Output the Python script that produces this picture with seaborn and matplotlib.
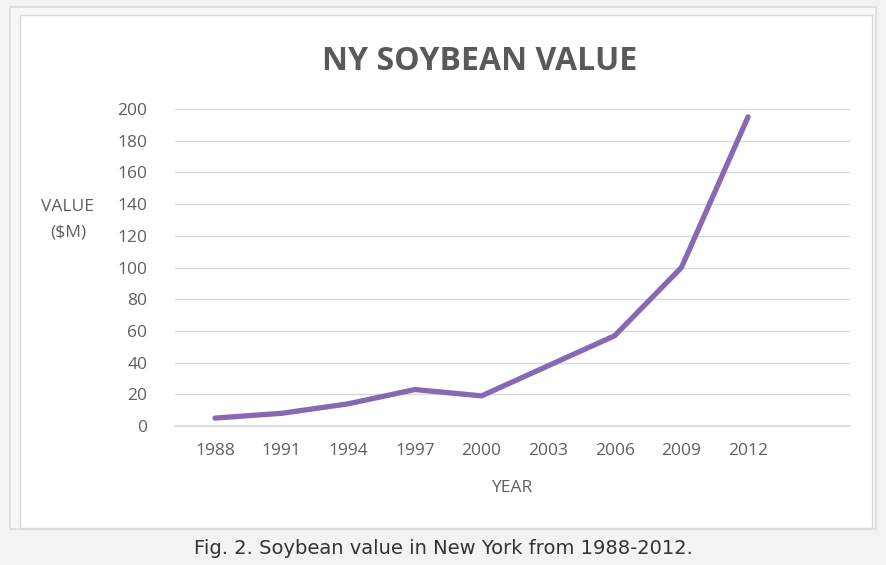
import matplotlib
matplotlib.use("Agg")
import matplotlib.pyplot as plt
import matplotlib.patches as patches
import seaborn as sns
import pandas as pd

# data
years = ["1988", "1991", "1994", "1997", "2000", "2003", "2006", "2009", "2012"]
value_musd = [5, 8, 14, 23, 19, 38, 57, 100, 195]

df = pd.DataFrame({"year": years, "value": value_musd})

sns.set_theme(style="white")
plt.rcParams["font.family"] = ["Open Sans", "DejaVu Sans"]

fig = plt.figure(figsize=(8.87, 5.65), dpi=100)
fig.patch.set_facecolor("#f3f3f3")

# white chart box (kept behind the axes)
fig.patches.append(patches.Rectangle((10 / 887, 1 - 529 / 565), 866 / 887, 522 / 565,
                                     transform=fig.transFigure, facecolor="#f7f7f7",
                                     edgecolor="#dcdcdc", linewidth=1.2, zorder=-10))
fig.patches.append(patches.Rectangle((20 / 887, 1 - 528 / 565), 852 / 887, 513 / 565,
                                     transform=fig.transFigure, facecolor="white",
                                     edgecolor="#d9d9d9", linewidth=1, zorder=-9))

ax = fig.add_axes([175 / 887, 1 - 426 / 565, 675 / 887, 317 / 565])
ax.set_facecolor("none")
ax.set_zorder(5)

sns.lineplot(data=df, x="year", y="value", ax=ax, sort=False, color="#8768b2",
             linewidth=3.8, solid_capstyle="round", solid_joinstyle="round")

ax.set_ylim(0, 200)
ax.set_xlim(-0.6, 9.53)
ax.set_yticks(range(0, 201, 20))
ax.yaxis.grid(True, color="#d9d9d9", linewidth=1)
ax.xaxis.grid(False)
for s in ["top", "right", "left"]:
    ax.spines[s].set_visible(False)
ax.spines["bottom"].set_color("#d9d9d9")
ax.tick_params(axis="both", length=0, labelsize=12.5, labelcolor="#5f5f5f")
ax.tick_params(axis="x", pad=12)
ax.tick_params(axis="y", pad=20)
ax.set_xlabel("")
ax.set_ylabel("")

fig.text(480 / 887, 1 - 62 / 565, "NY SOYBEAN VALUE", ha="center", va="center",
         fontsize=23, fontweight="bold", color="#595959")
fig.text(68 / 887, 1 - 220 / 565, "VALUE\n($M)", ha="center", va="center",
         fontsize=12.5, color="#5f5f5f", linespacing=1.75)
fig.text(512 / 887, 1 - 488 / 565, "YEAR", ha="center", va="center",
         fontsize=12.5, color="#5f5f5f")
fig.text(443 / 887, 1 - 548 / 565, "Fig. 2. Soybean value in New York from 1988-2012.",
         ha="center", va="center", fontsize=14, color="#333333",
         family=["DejaVu Sans"])

fig.savefig("out.png", dpi=100, facecolor=fig.get_facecolor())
